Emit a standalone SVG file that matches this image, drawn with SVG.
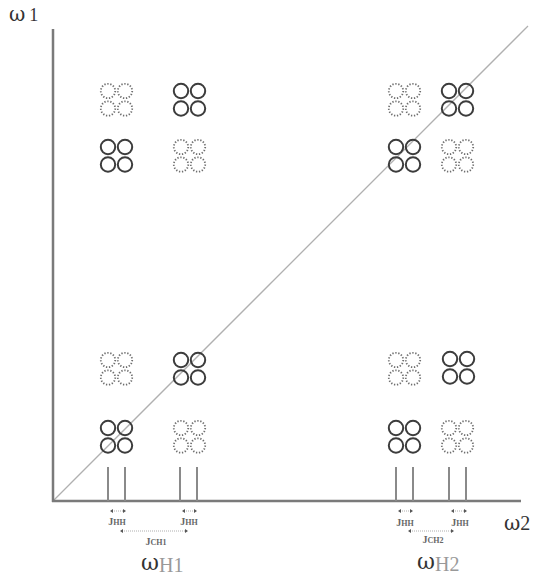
<svg xmlns="http://www.w3.org/2000/svg" xmlns:xlink="http://www.w3.org/1999/xlink" width="533" height="578" viewBox="0 0 533 578">
<style>
.axis{stroke:#7a7a7a;stroke-width:2.5;fill:none}
.diag{stroke:#b0b0b0;stroke-width:1.3;fill:none}
.peak{stroke:#8a8a8a;stroke-width:2;fill:none}
.solid{fill:none;stroke:#3c3c3c;stroke-width:2}
.dotted{fill:none;stroke:#6e6e6e;stroke-width:1.8;stroke-dasharray:1.3 1.7}
.jarr{stroke:#999;stroke-width:0.8;stroke-dasharray:1 1;fill:none}
.ah{fill:#555}
.lab{font-family:"Liberation Serif","DejaVu Serif",serif;fill:#333}
.om{font-family:"DejaVu Serif","Liberation Serif",serif}
.j{font-family:"Liberation Serif","DejaVu Serif",serif;font-weight:bold;fill:#666;text-anchor:middle}
.sub{fill:#999}
</style>
<defs>
<g id="sq">
<circle cx="0" cy="0" r="7.2"/><circle cx="17" cy="0" r="7.2"/>
<circle cx="0" cy="17.5" r="7.2"/><circle cx="17" cy="17.5" r="7.2"/>
</g>
</defs>
<g id="connectors">
<line class="diag" x1="53" y1="501" x2="528" y2="26"/>
<line class="axis" x1="53" y1="29" x2="53" y2="502"/>
<line class="axis" x1="52" y1="501" x2="521" y2="501"/>
<line class="peak" x1="108" y1="467" x2="108" y2="501"/>
<line class="peak" x1="125" y1="467" x2="125" y2="501"/>
<line class="peak" x1="180" y1="467" x2="180" y2="501"/>
<line class="peak" x1="197" y1="467" x2="197" y2="501"/>
<line class="peak" x1="396" y1="467" x2="396" y2="501"/>
<line class="peak" x1="413" y1="467" x2="413" y2="501"/>
<line class="peak" x1="449" y1="467" x2="449" y2="501"/>
<line class="peak" x1="466" y1="467" x2="466" y2="501"/>
</g>
<g id="r1c1" class="dotted"><use xlink:href="#sq" x="108" y="91"/></g>
<g id="r1c2" class="solid"><use xlink:href="#sq" x="181" y="91"/></g>
<g id="r1c3" class="dotted"><use xlink:href="#sq" x="396" y="91"/></g>
<g id="r1c4" class="solid"><use xlink:href="#sq" x="449" y="91"/></g>
<g id="r2c1" class="solid"><use xlink:href="#sq" x="108" y="147"/></g>
<g id="r2c2" class="dotted"><use xlink:href="#sq" x="181" y="147"/></g>
<g id="r2c3" class="solid"><use xlink:href="#sq" x="396" y="147"/></g>
<g id="r2c4" class="dotted"><use xlink:href="#sq" x="449" y="147"/></g>
<g id="r3c1" class="dotted"><use xlink:href="#sq" x="108" y="360"/></g>
<g id="r3c2" class="solid"><use xlink:href="#sq" x="181" y="360"/></g>
<g id="r3c3" class="dotted"><use xlink:href="#sq" x="396" y="360"/></g>
<g id="r3c4" class="solid"><use xlink:href="#sq" x="450" y="359"/></g>
<g id="r4c1" class="solid"><use xlink:href="#sq" x="108" y="428"/></g>
<g id="r4c2" class="dotted"><use xlink:href="#sq" x="181" y="428"/></g>
<g id="r4c3" class="solid"><use xlink:href="#sq" x="396" y="428"/></g>
<g id="r4c4" class="dotted"><use xlink:href="#sq" x="449" y="428"/></g>
<g id="couplings">
<g id="jhh1"><line class="jarr" x1="112" y1="511" x2="124" y2="511"/><path class="ah" d="M110,511 l3,-2 v4z M126,511 l-3,-2 v4z"/><text class="j" x="117" y="525" font-size="10">J<tspan font-size="8">HH</tspan></text></g>
<g id="jhh2"><line class="jarr" x1="184" y1="511" x2="195" y2="511"/><path class="ah" d="M182,511 l3,-2 v4z M197,511 l-3,-2 v4z"/><text class="j" x="189" y="525" font-size="10">J<tspan font-size="8">HH</tspan></text></g>
<g id="jch1"><line class="jarr" x1="122" y1="531" x2="186" y2="531"/><path class="ah" d="M120,531 l3,-2 v4z M188,531 l-3,-2 v4z"/><text class="j" x="156" y="545" font-size="10">J<tspan font-size="8">CH1</tspan></text></g>
<g id="jhh3"><line class="jarr" x1="400" y1="511" x2="411" y2="511"/><path class="ah" d="M398,511 l3,-2 v4z M413,511 l-3,-2 v4z"/><text class="j" x="405" y="526" font-size="10">J<tspan font-size="8">HH</tspan></text></g>
<g id="jhh4"><line class="jarr" x1="453" y1="511" x2="465" y2="511"/><path class="ah" d="M451,511 l3,-2 v4z M467,511 l-3,-2 v4z"/><text class="j" x="460" y="526" font-size="10">J<tspan font-size="8">HH</tspan></text></g>
<g id="jch2"><line class="jarr" x1="410" y1="531" x2="452" y2="531"/><path class="ah" d="M408,531 l3,-2 v4z M454,531 l-3,-2 v4z"/><text class="j" x="433" y="543" font-size="10">J<tspan font-size="8">CH2</tspan></text></g>
</g>
<text class="lab" x="9" y="21" font-size="18"><tspan class="om" font-size="20">ω</tspan><tspan dx="4">1</tspan></text>
<text class="lab" x="504" y="530" font-size="20"><tspan class="om">ω</tspan>2</text>
<text class="lab" x="141" y="570" font-size="20"><tspan class="om" font-size="22">ω</tspan><tspan class="sub" dy="2">H1</tspan></text>
<text class="lab" x="417" y="569" font-size="20"><tspan class="om" font-size="22">ω</tspan><tspan class="sub" dy="2">H2</tspan></text>
</svg>
